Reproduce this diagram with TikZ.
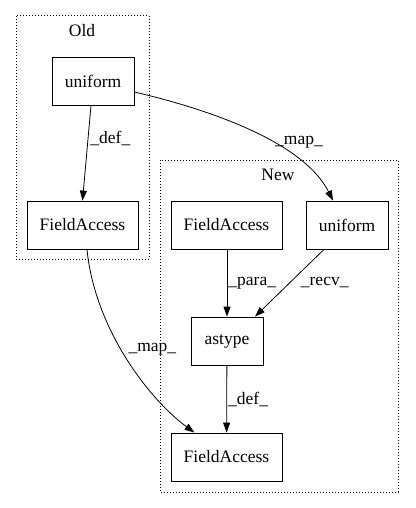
\documentclass[tikz,border=0pt]{standalone}
\usepackage{fontspec}
\setmainfont{Liberation Serif}
\usetikzlibrary{positioning,arrows.meta}
\tikzset{
  box/.style={draw, line width=0.8pt, minimum height=48pt, inner xsep=12pt,
              font=\fontsize{17.5}{19}\selectfont},
  cluster/.style={draw, line width=1pt, dotted},
  clbl/.style={font=\fontsize{17.5}{19}\selectfont},
  arr/.style={-{Triangle[length=10pt,width=7pt]}, line width=0.8pt},
  elbl/.style={font=\fontsize{17.5}{19}\selectfont, anchor=west, inner sep=1pt},
}

\begin{document}
\begin{tikzpicture}[x=1pt, y=1pt]
  \useasboundingbox (0,0) rectangle (415,-508);

  % clusters
  \draw[cluster] (16,-16) rectangle (149,-259);
  \node[clbl] (oldlbl) at (82,-31) {Old};
  \draw[cluster] (160,-160) rectangle (398,-492);
  \node[clbl] (newlbl) at (278,-175) {New};

  % nodes
  \node[box, minimum width=82pt] (uo) at (93,-81) {uniform};
  \node[box, minimum width=111pt] (fao) at (82.5,-225) {FieldAccess};
  \node[box, minimum width=111pt] (fan) at (226.5,-225) {FieldAccess};
  \node[box, minimum width=82pt] (un) at (347,-225) {uniform};
  \node[box, minimum width=72pt] (ast) at (227,-341) {astype};
  \node[box, minimum width=111pt] (fab) at (226.5,-457) {FieldAccess};

  % edges
  \draw[arr] (uo.south) ++(-2,0) -- (fao.north) node[elbl, pos=0.35, xshift=1pt] {\_def\_};
  \draw[arr] (uo.east) ++(0,-11) .. controls (220,-112) and (305,-145) .. ([xshift=-14pt]un.north)
    node[elbl, pos=0.58, xshift=2pt] {\_map\_};
  \draw[arr] (fao.south) ++(4.5,0) .. controls (95,-330) and (150,-400) .. ([xshift=-32pt]fab.north)
    node[elbl, pos=0.45, xshift=6pt] {\_map\_};
  \draw[arr] (fan.south) ++(0.5,0) -- (ast.north) node[elbl, pos=0.5] {\_para\_};
  \draw[arr] ([xshift=-23pt]un.south) -- ([xshift=28pt]ast.north)
    node[elbl, pos=0.5, xshift=10pt] {\_recv\_};
  \draw[arr] (ast) -- (fab) node[elbl, pos=0.5] {\_def\_};
\end{tikzpicture}
\end{document}
